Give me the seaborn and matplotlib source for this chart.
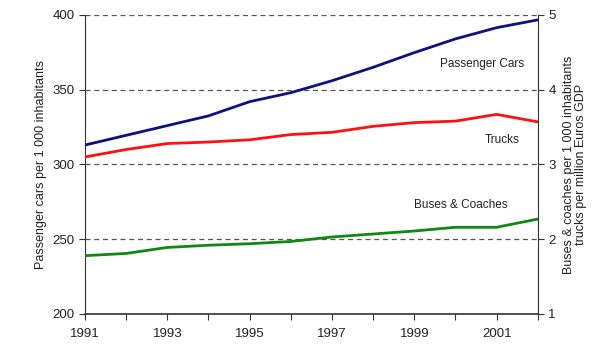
import numpy as np
import pandas as pd
import matplotlib
matplotlib.use('Agg')
import matplotlib.pyplot as plt
import seaborn as sns

sns.set_style('white')
plt.rcParams['font.family'] = ['Liberation Sans', 'DejaVu Sans']

years = [1991, 1992, 1993, 1994, 1995, 1996, 1997, 1998, 1999, 2000, 2001, 2002]
cars = [313, 319.5, 326, 332.5, 342, 348, 356, 365, 374.8, 384, 391.5, 396.7]
trucks = [3.10, 3.20, 3.28, 3.30, 3.33, 3.40, 3.43, 3.51, 3.56, 3.58, 3.67, 3.57]
buses = [1.78, 1.81, 1.89, 1.92, 1.94, 1.97, 2.03, 2.07, 2.11, 2.16, 2.16, 2.27]

df = pd.DataFrame({'year': years, 'cars': cars, 'trucks': trucks, 'buses': buses})

fig = plt.figure(figsize=(6.07, 3.56), dpi=100)
ax = fig.add_axes([0.140, 0.118, 0.746, 0.840])
ax2 = ax.twinx()

# gridlines first so the lines sit on top
for v in [250, 300, 350, 400]:
    ax.axhline(v, color='#555555', linestyle=(0, (4, 3)), linewidth=0.9, zorder=1)

sns.lineplot(data=df, x='year', y='cars', ax=ax, color='#101080', linewidth=2, zorder=3)
sns.lineplot(data=df, x='year', y='trucks', ax=ax2, color='#ff1010', linewidth=2, zorder=3)
sns.lineplot(data=df, x='year', y='buses', ax=ax2, color='#118811', linewidth=2, zorder=3)

ax.set_xlim(1991, 2002)
ax.set_ylim(200, 400)
ax2.set_ylim(1, 5)
ax.set_yticks([200, 250, 300, 350, 400])
ax2.set_yticks([1, 2, 3, 4, 5])
ax.set_xticks(years)
ax.set_xticklabels([str(y) if y % 2 == 1 else '' for y in years])

for a in (ax, ax2):
    a.spines['top'].set_visible(False)
    a.tick_params(length=4, width=0.8, color='#333333', labelsize=9.5, labelcolor='#222222', direction='out')
ax.spines['right'].set_visible(False)
ax.spines['bottom'].set_visible(False)
ax2.spines['bottom'].set_visible(False)
ax.spines['left'].set_color('#333333')
ax2.spines['right'].set_color('#333333')
ax2.spines['left'].set_visible(False)
ax.axhline(200, color='#333333', linewidth=1.2, zorder=4, clip_on=False)
ax.tick_params(axis='x', bottom=True, pad=6)
ax.tick_params(axis='y', left=True)
ax2.tick_params(axis='y', right=True)

ax.set_xlabel('')
ax.set_ylabel('Passenger cars per 1 000 inhabitants', fontsize=9, color='#222222', labelpad=4)
ax2.set_ylabel('Buses & coaches per 1 000 inhabitants\ntrucks per million Euros GDP',
               fontsize=9, color='#222222', labelpad=5, linespacing=1.05)

ax.text(2000.64, 367.2, 'Passenger Cars', fontsize=8.5, color='#222222', ha='center', va='center')
ax2.text(2001.13, 3.33, 'Trucks', fontsize=8.5, color='#222222', ha='center', va='center')
ax2.text(2000.13, 2.46, 'Buses & Coaches', fontsize=8.5, color='#222222', ha='center', va='center')

fig.savefig('out.png', dpi=100)
